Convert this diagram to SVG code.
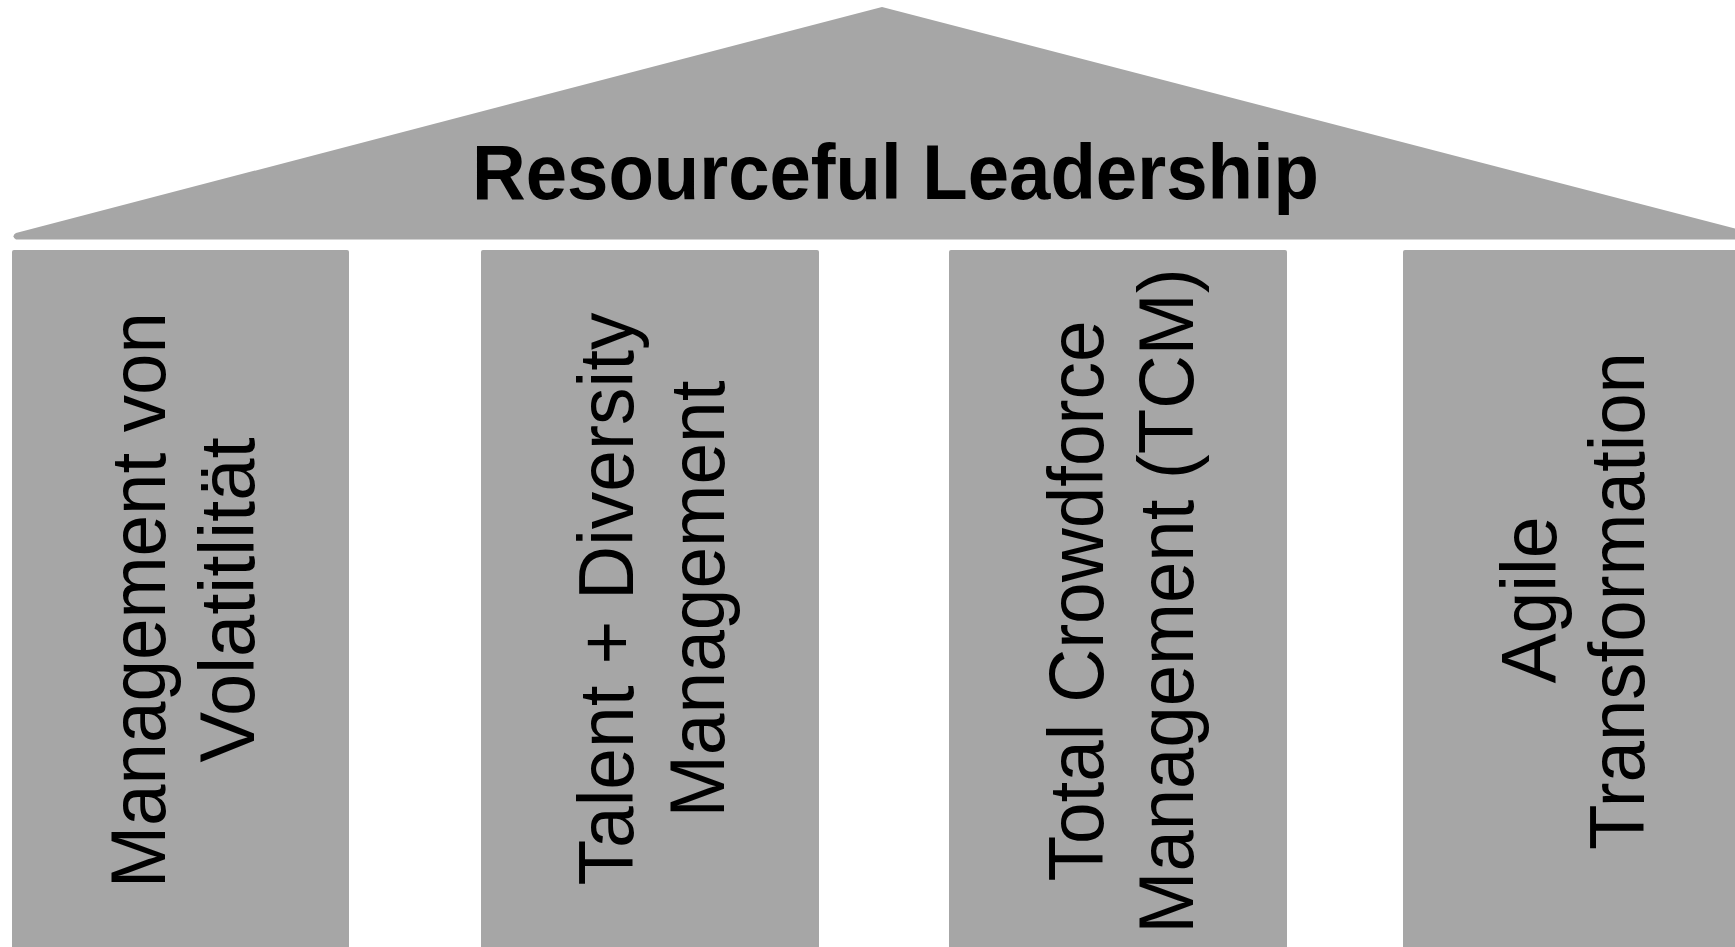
<svg xmlns="http://www.w3.org/2000/svg" width="1735" height="947" viewBox="0 0 1735 947">
<style>
.shape{fill:#a6a6a6;}
.title{font-family:"Liberation Sans",Arial,sans-serif;font-weight:bold;font-size:77px;fill:#000;}
.lbl{font-family:"Liberation Sans",Arial,sans-serif;font-size:77px;fill:#000;text-anchor:middle;}
</style>
<rect width="1735" height="947" fill="#ffffff"/>
<g id="roof">
<path class="shape" d="M882,7 L1752,233 Q1756,236 1752,239.5 L16,239.5 Q11,236 16,233 Z"/>
<text class="title" x="472" y="199" textLength="847" lengthAdjust="spacingAndGlyphs">Resourceful Leadership</text>
</g>
<g id="pillar1">
<rect class="shape" x="12" y="250" width="337" height="720" rx="2"/>
<text class="lbl" transform="translate(165,600) rotate(-90)" textLength="576" lengthAdjust="spacingAndGlyphs">Management von</text>
<text class="lbl" transform="translate(254,600) rotate(-90)" textLength="325" lengthAdjust="spacingAndGlyphs">Volatitlität</text>
</g>
<g id="pillar2">
<rect class="shape" x="481" y="250" width="338" height="720" rx="2"/>
<text class="lbl" transform="translate(633,599) rotate(-90)" textLength="573" lengthAdjust="spacingAndGlyphs">Talent + Diversity</text>
<text class="lbl" transform="translate(724,599) rotate(-90)" textLength="437" lengthAdjust="spacingAndGlyphs">Management</text>
</g>
<g id="pillar3">
<rect class="shape" x="949" y="250" width="338" height="720" rx="2"/>
<text class="lbl" transform="translate(1103,601) rotate(-90)" textLength="561" lengthAdjust="spacingAndGlyphs">Total Crowdforce</text>
<text class="lbl" transform="translate(1193,601) rotate(-90)" textLength="665" lengthAdjust="spacingAndGlyphs">Management (TCM)</text>
</g>
<g id="pillar4">
<rect class="shape" x="1403" y="250" width="360" height="720" rx="2"/>
<text class="lbl" transform="translate(1556,600) rotate(-90)" textLength="167" lengthAdjust="spacingAndGlyphs">Agile</text>
<text class="lbl" transform="translate(1644,601) rotate(-90)" textLength="498" lengthAdjust="spacingAndGlyphs">Transformation</text>
</g>
<g id="connectors"></g>
</svg>
